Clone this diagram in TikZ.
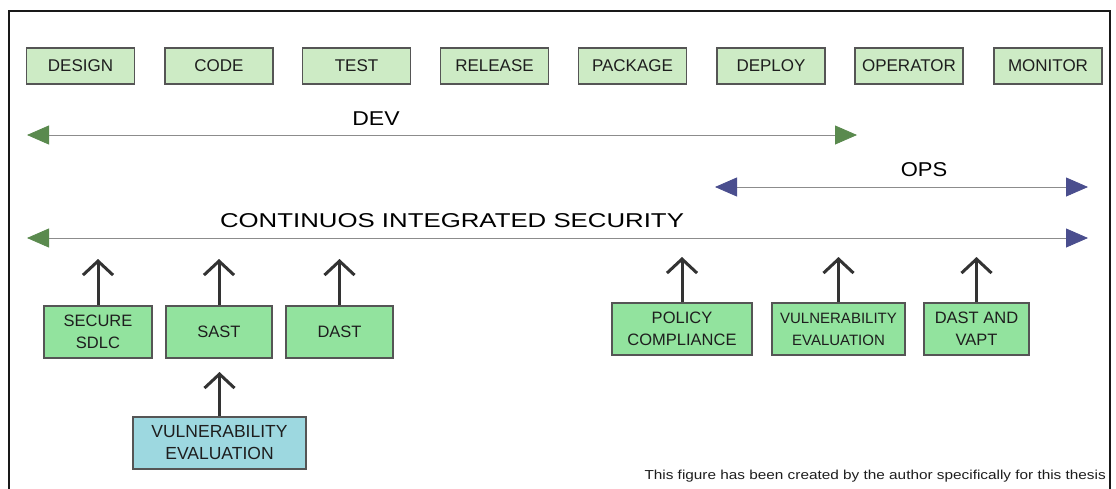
\documentclass[tikz,border=0pt]{standalone}
\usepackage{fontspec}
\setmainfont{Liberation Sans}
\usetikzlibrary{arrows.meta}
\definecolor{topfill}{HTML}{CDEBC5}
\definecolor{lowfill}{HTML}{92E39E}
\definecolor{bluefill}{HTML}{9DD8E0}
\definecolor{devgreen}{HTML}{5A8A4E}
\definecolor{opsblue}{HTML}{4A4E8E}
\definecolor{boxline}{HTML}{555555}
\definecolor{txt}{HTML}{1E1E1E}
\tikzset{
  topbox/.style={draw=boxline, line width=1.2pt, fill=topfill, text=txt, minimum width=108pt, minimum height=36pt, inner sep=0pt, font=\fontsize{17}{20}\selectfont},
  lowbox/.style={draw=boxline, line width=1.2pt, fill=lowfill, text=txt, minimum height=52pt, inner sep=0pt, align=center, font=\fontsize{16.5}{22}\selectfont},
  bluebox/.style={lowbox, fill=bluefill},
  upar/.style={draw=black!80, line width=3pt, -{Straight Barb[length=14pt, width=30pt, line width=3pt]}},
  spanline/.style={draw=black!45, line width=0.8pt},
  handlabel/.style={text=black, inner sep=0pt, font=\fontsize{20}{22}\selectfont},
}
\begin{document}
\begin{tikzpicture}[x=1pt, y=-1pt]
\useasboundingbox (0,0) rectangle (1116,488);
\fill[white] (0,0) rectangle (1116,488);
\draw[line width=2pt, black!90] (9,490) -- (9,11) -- (1110,11) -- (1110,490);

% top phases
\node[topbox] (design)   at (80.5,66)  {DESIGN};
\node[topbox] (code)     at (219,66)   {CODE};
\node[topbox] (test)     at (356.5,66) {TEST};
\node[topbox] (release)  at (494.5,66) {RELEASE};
\node[topbox] (package)  at (632.5,66) {PACKAGE};
\node[topbox] (deploy)   at (771,66)   {\raisebox{-3pt}{DEPLOY}};
\node[topbox] (operator) at (909,66)   {OPERATOR};
\node[topbox] (monitor)  at (1048,66)  {MONITOR};

% DEV span
\coordinate (devL) at (27,135);
\coordinate (devR) at (857,135);
\draw[spanline, {Triangle[length=22pt, width=19pt, color=devgreen]}-{Triangle[length=22pt, width=19pt, color=devgreen]}] (devL) -- (devR);
\node[handlabel] (devlab) at (376,119) {\scalebox{1.15}[1]{DEV}};

% OPS span
\coordinate (opsL) at (715,187);
\coordinate (opsR) at (1088,187);
\draw[spanline, {Triangle[length=22pt, width=19pt, color=opsblue]}-{Triangle[length=22pt, width=19pt, color=opsblue]}] (opsL) -- (opsR);
\node[handlabel] (opslab) at (924,170) {\scalebox{1.1}[1]{OPS}};

% CIS span
\coordinate (cisL) at (27,238);
\coordinate (cisR) at (1088,238);
\draw[spanline, {Triangle[length=22pt, width=19pt, color=devgreen]}-{Triangle[length=22pt, width=19pt, color=opsblue]}] (cisL) -- (cisR);
\node[handlabel] (cislab) at (452,221) {\scalebox{1.29}[1]{CONTINUOS INTEGRATED SECURITY}};

% lower boxes
\node[lowbox, minimum width=108pt] (sdlc) at (98,332) {SECURE\\SDLC};
\node[lowbox, minimum width=106pt] (sast) at (219,332) {SAST};
\node[lowbox, minimum width=107pt] (dast) at (339.5,332) {DAST};
\node[bluebox, minimum width=173pt, font=\fontsize{17.5}{22}\selectfont] (vuln1) at (219.5,443) {VULNERABILITY\\EVALUATION};
\node[lowbox, minimum width=140pt] (policy) at (682,329) {POLICY\\COMPLIANCE};
\node[lowbox, minimum width=133pt, font=\fontsize{15}{22}\selectfont] (vuln2) at (838.5,329) {VULNERABILITY\\EVALUATION};
\node[lowbox, minimum width=105pt] (vapt) at (976.5,329) {DAST AND\\VAPT};

\coordinate (t1) at (98,259);
\coordinate (t2) at (219,259);
\coordinate (t3) at (339.5,259);
\coordinate (t4) at (219.5,372);
\coordinate (t5) at (682,257);
\coordinate (t6) at (838.5,257);
\coordinate (t7) at (976.5,257);
\draw[upar] (sdlc.north) -- (t1);
\draw[upar] (sast.north) -- (t2);
\draw[upar] (dast.north) -- (t3);
\draw[upar] (vuln1.north) -- (t4);
\draw[upar] (policy.north) -- (t5);
\draw[upar] (vuln2.north) -- (t6);
\draw[upar] (vapt.north) -- (t7);

\node[anchor=east, inner sep=0pt, font=\fontsize{13}{15}\selectfont, text=txt] (credit) at (1106,476) {\scalebox{1.18}[1]{This figure has been created by the author specifically for this thesis}};
\end{tikzpicture}
\end{document}
